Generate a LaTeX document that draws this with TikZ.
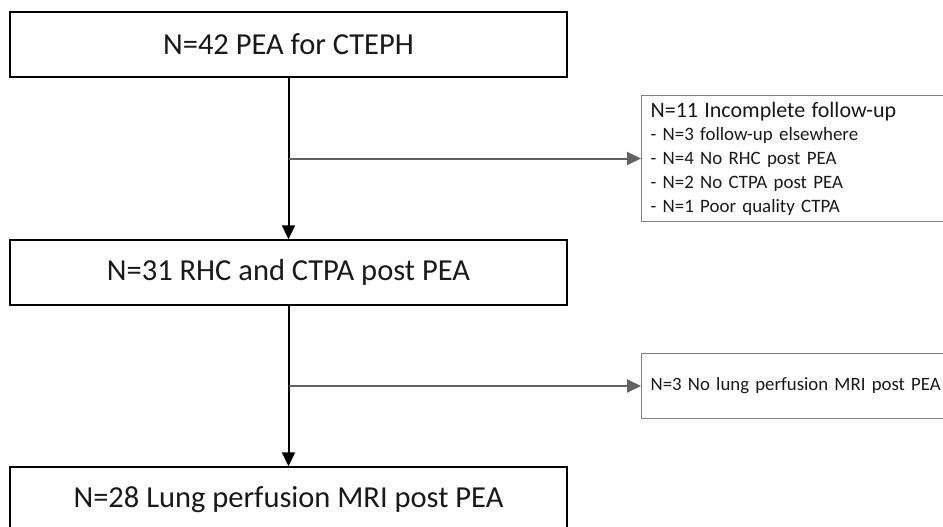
\documentclass[tikz,border=0pt]{standalone}
\usepackage{fontspec}
\setmainfont{Carlito}
\usetikzlibrary{
  arrows.meta,
  calc
}

\begin{document}
\begin{tikzpicture}[
  x=1pt, y=-1pt,
  stagebox/.style={draw=black, line width=1.4pt, minimum width=557pt,
    minimum height=65pt, inner sep=0pt, text=black!90,
    font=\fontsize{30.5}{36}\selectfont},
  exclbox/.style={draw=black!50, line width=1.2pt, anchor=west,
    inner xsep=9pt, inner ysep=0pt, align=left, text=black!90,
    font=\fontsize{18.9}{23.7}\selectfont},
  mainflow/.style={draw=black, line width=2pt,
    -{Triangle[width=13pt,length=14pt]}},
  sideflow/.style={draw=black!62, line width=2pt,
    -{Triangle[width=13pt,length=14pt]}}
]
\useasboundingbox (0,0) rectangle (943,527);
\fill[white] (0,0) rectangle (943,527);

\node[stagebox] (pea) at (288.5,44.5) {N=42 PEA for CTEPH};
\node[stagebox] (rhc) at (288.5,272.5) {N=31 RHC and CTPA post PEA};
\node[stagebox] (mri) at (288.5,499.5) {N=28 Lung perfusion MRI post PEA};

\coordinate (split1) at ($(pea.south)!.5!(rhc.north)$);
\coordinate (split2) at ($(rhc.south)!.5!(mri.north)$);

\node[exclbox, text width=300pt, minimum height=126pt]
  (incomplete) at (split1 -| 641,0)
  {{\fontsize{22}{23.7}\selectfont N=11 Incomplete follow-up}\\
   - N=3 follow-up elsewhere\\
   - N=4 No RHC post PEA\\
   - N=2 No CTPA post PEA\\
   - N=1 Poor quality CTPA};
\node[exclbox, text width=300pt, minimum height=65pt,
  font=\fontsize{18.8}{23.7}\selectfont]
  (nomri) at (split2 -| 641,0) {N=3 No lung perfusion MRI post PEA};

\draw[mainflow] (pea) -- (rhc);
\draw[mainflow] (rhc) -- (mri);
\draw[sideflow] (split1) -- (incomplete.west);
\draw[sideflow] (split2) -- (nomri.west);
\end{tikzpicture}
\end{document}
